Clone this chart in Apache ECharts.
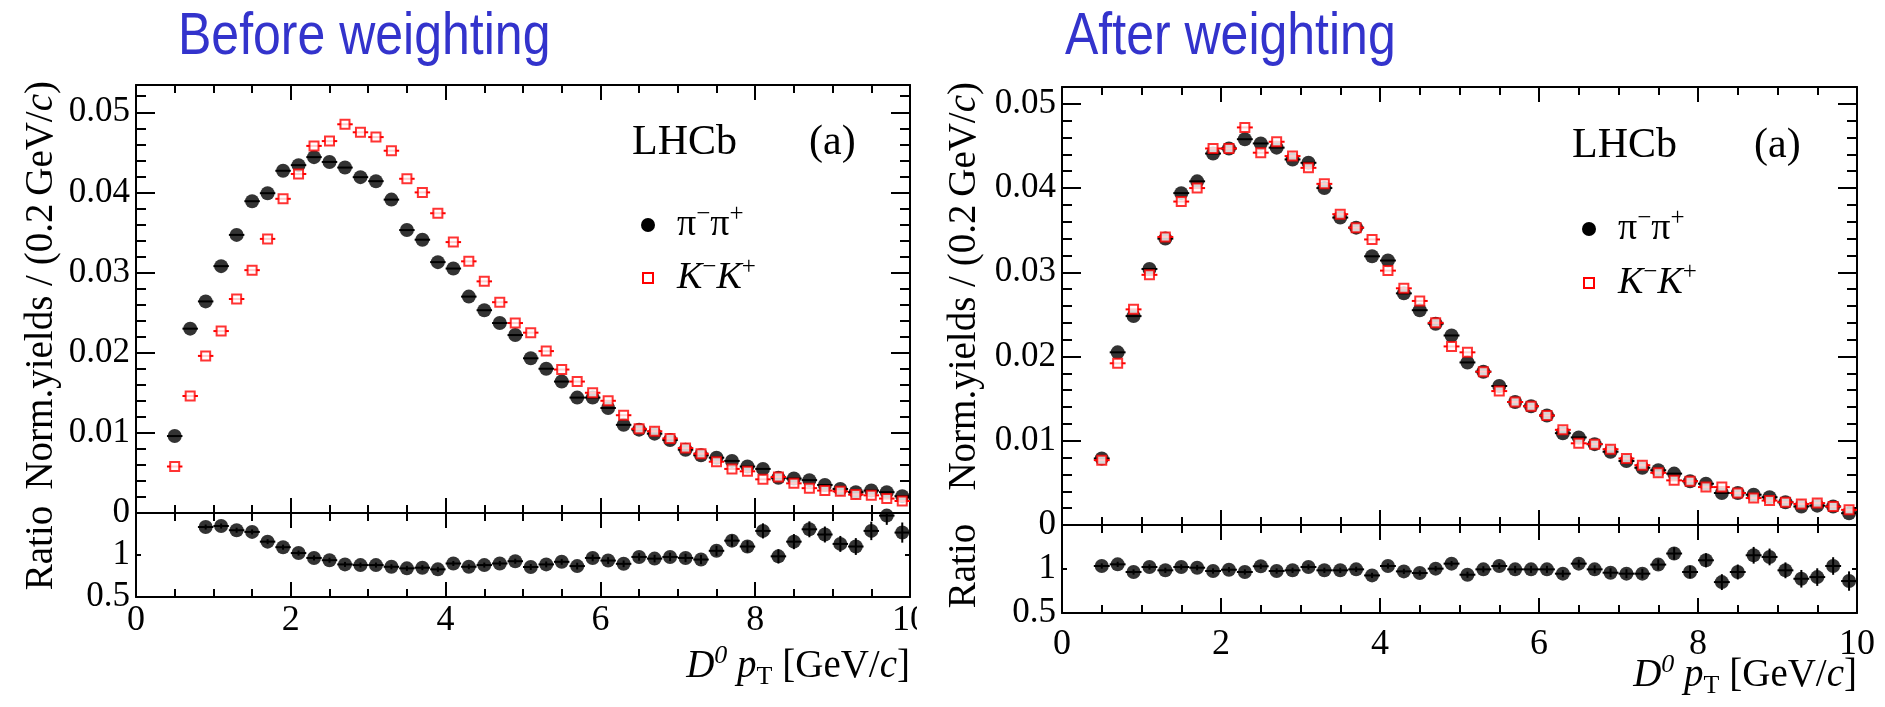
<!DOCTYPE html>
<html>
<head>
<meta charset="utf-8">
<script src="https://cdn.jsdelivr.net/npm/echarts@6/dist/echarts.min.js"></script>
<style>
  html, body { margin: 0; padding: 0; background: #fff; }
  #chart { width: 1885px; height: 707px; }
</style>
</head>
<body>
<div id="chart"></div>
<script>
// D0 pT bin centres (0.2 GeV/c bins from 0.4 to 10 GeV/c)
const ptBins = [0.5, 0.7, 0.9, 1.1, 1.3, 1.5, 1.7, 1.9, 2.1, 2.3, 2.5, 2.7, 2.9, 3.1, 3.3, 3.5,
  3.7, 3.9, 4.1, 4.3, 4.5, 4.7, 4.9, 5.1, 5.3, 5.5, 5.7, 5.9, 6.1, 6.3, 6.5, 6.7, 6.9, 7.1,
  7.3, 7.5, 7.7, 7.9, 8.1, 8.3, 8.5, 8.7, 8.9, 9.1, 9.3, 9.5, 9.7, 9.9];
const binHalfWidth = 0.1;

// Before weighting: normalised yields
const beforePiPi = [0.0096, 0.0230, 0.0264, 0.0308, 0.0347, 0.0389, 0.0399, 0.0427, 0.0434, 0.0444,
  0.0438, 0.0431, 0.0419, 0.0414, 0.0391, 0.0353, 0.0341, 0.0313, 0.0305, 0.0270, 0.0253, 0.0237,
  0.0222, 0.0193, 0.0180, 0.0164, 0.0144, 0.0144, 0.0131, 0.0110, 0.0104, 0.0099, 0.0091, 0.0079,
  0.0072, 0.0069, 0.0065, 0.0058, 0.0055, 0.0044, 0.0043, 0.0041, 0.0035, 0.0030, 0.0026, 0.0028,
  0.0026, 0.0021];
const beforeKK = [0.0058, 0.0146, 0.0196, 0.0227, 0.0267, 0.0303, 0.0342, 0.0392, 0.0423, 0.0458,
  0.0464, 0.0485, 0.0475, 0.0469, 0.0452, 0.0417, 0.0400, 0.0374, 0.0338, 0.0314, 0.0289, 0.0263,
  0.0237, 0.0225, 0.0202, 0.0179, 0.0164, 0.0150, 0.0140, 0.0122, 0.0105, 0.0102, 0.0093, 0.0081,
  0.0074, 0.0064, 0.0055, 0.0052, 0.0042, 0.0045, 0.0037, 0.0031, 0.0028, 0.0027, 0.0023, 0.0022,
  0.0018, 0.0015];
// Before weighting: pi pi / K K ratio (first two bins are off scale)
const beforeRatio = [null, null, 1.333, 1.345, 1.295, 1.275, 1.159, 1.093, 1.023, 0.965, 0.938,
  0.888, 0.880, 0.880, 0.860, 0.841, 0.849, 0.829, 0.899, 0.860, 0.880, 0.899, 0.926, 0.857, 0.888,
  0.919, 0.868, 0.965, 0.934, 0.895, 0.977, 0.957, 0.977, 0.965, 0.946, 1.050, 1.171, 1.101, 1.287,
  0.984, 1.159, 1.306, 1.244, 1.132, 1.101, 1.287, 1.469, 1.267];
const beforeRatioErr = [0, 0, 0.03, 0.03, 0.03, 0.03, 0.03, 0.03, 0.03, 0.03, 0.03, 0.03, 0.03,
  0.03, 0.03, 0.03, 0.03, 0.03, 0.03, 0.03, 0.03, 0.03, 0.03, 0.035, 0.035, 0.035, 0.04, 0.04, 0.04,
  0.04, 0.045, 0.045, 0.05, 0.05, 0.055, 0.06, 0.07, 0.07, 0.09, 0.085, 0.09, 0.095, 0.095, 0.095,
  0.1, 0.11, 0.11, 0.12];

// After weighting: normalised yields
const afterPiPi = [0.0079, 0.0205, 0.0248, 0.0304, 0.0340, 0.0394, 0.0408, 0.0441, 0.0447, 0.0458,
  0.0453, 0.0448, 0.0434, 0.0430, 0.0400, 0.0365, 0.0353, 0.0319, 0.0314, 0.0275, 0.0255, 0.0239,
  0.0225, 0.0193, 0.0182, 0.0165, 0.0146, 0.0141, 0.0130, 0.0109, 0.0104, 0.0096, 0.0087, 0.0076,
  0.0068, 0.0065, 0.0061, 0.0052, 0.0049, 0.0038, 0.0038, 0.0036, 0.0033, 0.0027, 0.0022, 0.0023,
  0.0022, 0.0014];
const afterKK = [0.0077, 0.0192, 0.0256, 0.0297, 0.0342, 0.0384, 0.0400, 0.0447, 0.0447, 0.0472,
  0.0442, 0.0455, 0.0438, 0.0424, 0.0405, 0.0369, 0.0353, 0.0339, 0.0302, 0.0281, 0.0266, 0.0240,
  0.0212, 0.0205, 0.0182, 0.0159, 0.0146, 0.0141, 0.0130, 0.0113, 0.0097, 0.0096, 0.0090, 0.0079,
  0.0071, 0.0062, 0.0053, 0.0052, 0.0045, 0.0045, 0.0038, 0.0032, 0.0029, 0.0027, 0.0025, 0.0026,
  0.0022, 0.0018];
const afterRatio = [1.034, 1.053, 0.966, 1.023, 0.985, 1.023, 1.015, 0.977, 0.992, 0.966, 1.031,
  0.977, 0.985, 1.023, 0.985, 0.985, 0.996, 0.927, 1.034, 0.973, 0.954, 1.004, 1.061, 0.935, 0.996,
  1.034, 0.996, 0.996, 0.996, 0.947, 1.061, 0.996, 0.958, 0.947, 0.947, 1.050, 1.176, 0.966, 1.099,
  0.851, 0.966, 1.156, 1.137, 0.985, 0.889, 0.908, 1.034, 0.863];
const afterRatioErr = [0.03, 0.03, 0.03, 0.03, 0.03, 0.03, 0.03, 0.03, 0.03, 0.03, 0.03, 0.03,
  0.03, 0.03, 0.03, 0.03, 0.03, 0.03, 0.03, 0.03, 0.03, 0.03, 0.03, 0.035, 0.035, 0.035, 0.04, 0.04,
  0.04, 0.04, 0.045, 0.045, 0.05, 0.05, 0.055, 0.06, 0.07, 0.07, 0.08, 0.09, 0.085, 0.095, 0.095,
  0.09, 0.1, 0.1, 0.1, 0.11];

// Axis tick labels
const yieldTickLabels = ['0', '0.01', '0.02', '0.03', '0.04', '0.05'];
const ratioTickLabels = { '0.5': '0.5', '1': '1' };

const SERIF = "'Liberation Serif', 'Times New Roman', Times, serif";
const SANS = "'Liberation Sans', Arial, Helvetica, sans-serif";

// Pixel layout of the two canvases (frame edges)
const panels = [
  { title: 'Before weighting', pipi: beforePiPi, kk: beforeKK, ratio: beforeRatio, ratioErr: beforeRatioErr,
    left: 136, right: 910, top: 85, mid: 513, bottom: 597, yMax: 0.0534, xLabelMargin: 6,
    titleX: 178, titleY: 37, lhcbX: 632, aX: 809, lhcbY: 143,
    legX: 648, legTextX: 677, legY1: 225, legY2: 278,
    yTitleX: 42, normTop: 81, ratioCenter: 548, xTitleY: 667 },
  { title: 'After weighting', pipi: afterPiPi, kk: afterKK, ratio: afterRatio, ratioErr: afterRatioErr,
    left: 1062, right: 1857, top: 87, mid: 525, bottom: 613, yMax: 0.052, xLabelMargin: 14,
    titleX: 1065, titleY: 37, lhcbX: 1572, aX: 1754, lhcbY: 146,
    legX: 1589, legTextX: 1618, legY1: 229, legY2: 283,
    yTitleX: 965, normTop: 82, ratioCenter: 566, xTitleY: 676 }
];

const frameLine = { color: '#000', width: 2 };
const grids = [], xAxes = [], yAxes = [], series = [], graphics = [];

function addGrid(p, top, bottom) {
  grids.push({ left: p.left, top: top, width: p.right - p.left, height: bottom - top,
    containLabel: false, outerBoundsMode: 'none', show: false });
  return grids.length - 1;
}

function addXAxes(g, showLabels, margin) {
  const base = {
    gridIndex: g, type: 'value', min: 0, max: 10, interval: 2,
    axisLine: { show: true, onZero: false, lineStyle: frameLine },
    axisTick: { show: true, inside: true, length: 15, lineStyle: frameLine },
    minorTick: { show: true, splitNumber: 4, length: 8, lineStyle: frameLine },
    splitLine: { show: false }, minorSplitLine: { show: false }
  };
  xAxes.push(Object.assign({}, base, { position: 'bottom',
    axisLabel: { show: showLabels, margin: margin, fontFamily: SERIF, fontSize: 36, color: '#000' } }));
  const idx = xAxes.length - 1;
  xAxes.push(Object.assign({}, base, { position: 'top', axisLabel: { show: false } }));
  return idx;
}

function yieldLabel(v) {
  const k = Math.round(v * 100);
  if (Math.abs(v * 100 - k) > 1e-6) return '';
  return yieldTickLabels[k] || '';
}

function addYieldAxes(g, yMax) {
  const common = { gridIndex: g, type: 'value', min: 0, max: yMax, splitLine: { show: false } };
  const major = Object.assign({}, common, { interval: 0.01,
    axisLine: { show: true, onZero: false, lineStyle: frameLine },
    axisTick: { show: true, inside: true, length: 19, lineStyle: frameLine } });
  yAxes.push(Object.assign({}, major, { position: 'left',
    axisLabel: { show: true, margin: 6, fontFamily: SERIF, fontSize: 35, color: '#000',
      formatter: yieldLabel, showMaxLabel: false } }));
  const idx = yAxes.length - 1;
  yAxes.push(Object.assign({}, major, { position: 'right', axisLabel: { show: false } }));
  const minor = Object.assign({}, common, { interval: 0.002,
    axisLine: { show: false, onZero: false },
    axisTick: { show: true, inside: true, length: 10, lineStyle: frameLine },
    axisLabel: { show: false } });
  yAxes.push(Object.assign({}, minor, { position: 'left' }));
  yAxes.push(Object.assign({}, minor, { position: 'right' }));
  return idx;
}

function addRatioAxes(g) {
  const base = { gridIndex: g, type: 'value', min: 0.5, max: 1.5, interval: 0.5,
    splitLine: { show: false },
    axisLine: { show: true, onZero: false, lineStyle: frameLine },
    axisTick: { show: true, inside: true, length: 5, lineStyle: frameLine } };
  yAxes.push(Object.assign({}, base, { position: 'left',
    axisLabel: { show: true, margin: 6, fontFamily: SERIF, fontSize: 35, color: '#000',
      formatter: v => ratioTickLabels[String(v)] || '' } }));
  const idx = yAxes.length - 1;
  yAxes.push(Object.assign({}, base, { position: 'right', axisLabel: { show: false } }));
  return idx;
}

function points(values, errs) {
  const out = [];
  values.forEach((v, i) => {
    if (v !== null && v !== undefined) out.push([ptBins[i], v, errs ? errs[i] : 0]);
  });
  return out;
}

// Error bars: bin half-width horizontally, statistical error vertically
function errorBars(color) {
  return function (params, api) {
    const x = api.value(0), y = api.value(1), e = api.value(2);
    const a = api.coord([x - binHalfWidth, y]);
    const b = api.coord([x + binHalfWidth, y]);
    const children = [{ type: 'line', shape: { x1: a[0], y1: a[1], x2: b[0], y2: b[1] },
      style: { stroke: color, lineWidth: 2 } }];
    if (e > 0) {
      const t = api.coord([x, y + e]);
      const d = api.coord([x, y - e]);
      children.push({ type: 'line', shape: { x1: t[0], y1: t[1], x2: d[0], y2: d[1] },
        style: { stroke: color, lineWidth: 2 } });
    }
    return { type: 'group', children: children };
  };
}

function addMarkers(xi, yi, data, isKK) {
  series.push({ type: 'custom', xAxisIndex: xi, yAxisIndex: yi, data: data, clip: true, silent: true,
    renderItem: errorBars(isKK ? '#ff0000' : '#000'), z: isKK ? 4 : 2 });
  series.push({ type: 'scatter', xAxisIndex: xi, yAxisIndex: yi, data: data, silent: true,
    symbol: isKK ? 'rect' : 'circle', symbolSize: isKK ? 9 : 14,
    itemStyle: isKK ? { color: '#fff', borderColor: '#ff0000', borderWidth: 2 } : { color: '#000' },
    z: isKK ? 5 : 3 });
}

function serifRich(size) {
  return {
    r: { fontFamily: SERIF, fontSize: size, fill: '#000', lineHeight: size + 8 },
    i: { fontFamily: SERIF, fontSize: size, fontStyle: 'italic', fill: '#000', lineHeight: size + 8 },
    sup: { fontFamily: SERIF, fontSize: Math.round(size * 0.66), fill: '#000', verticalAlign: 'top', lineHeight: Math.round(size * 0.5) },
    supi: { fontFamily: SERIF, fontSize: Math.round(size * 0.66), fontStyle: 'italic', fill: '#000', verticalAlign: 'top', lineHeight: Math.round(size * 0.5) },
    sub: { fontFamily: SERIF, fontSize: Math.round(size * 0.66), fill: '#000', verticalAlign: 'bottom', lineHeight: Math.round(size * 0.45) }
  };
}

function textEl(x, y, text, opts) {
  return Object.assign({ type: 'text', x: x, y: y, z: 100, silent: true,
    style: Object.assign({ x: 0, y: 0, text: text, fill: '#000',
      align: 'left', textAlign: 'left', verticalAlign: 'middle', textVerticalAlign: 'middle' }, opts.style) },
    opts.el || {});
}

panels.forEach(p => {
  const gU = addGrid(p, p.top, p.mid);
  const gR = addGrid(p, p.mid, p.bottom);
  const xU = addXAxes(gU, false, 0);
  const yU = addYieldAxes(gU, p.yMax);
  const xR = addXAxes(gR, true, p.xLabelMargin);
  const yR = addRatioAxes(gR);

  addMarkers(xU, yU, points(p.pipi), false);
  addMarkers(xU, yU, points(p.kk), true);
  addMarkers(xR, yR, points(p.ratio, p.ratioErr), false);

  // Panel heading (narrow, tall sans lettering)
  graphics.push(textEl(p.titleX, p.titleY, p.title,
    { style: { fill: '#3333cc', fontFamily: SANS, fontSize: 50 }, el: { scaleY: 1.2 } }));
  // Experiment tag
  graphics.push(textEl(p.lhcbX, p.lhcbY, 'LHCb', { style: { fontFamily: SERIF, fontSize: 42 } }));
  graphics.push(textEl(p.aX, p.lhcbY, '(a)', { style: { fontFamily: SERIF, fontSize: 42 } }));

  // Legend
  graphics.push({ type: 'circle', z: 100, silent: true, shape: { cx: p.legX, cy: p.legY1, r: 7 },
    style: { fill: '#000' } });
  graphics.push({ type: 'rect', z: 100, silent: true,
    shape: { x: p.legX - 5, y: p.legY2 - 5, width: 10, height: 10 },
    style: { fill: '#fff', stroke: '#ff0000', lineWidth: 2 } });
  graphics.push(textEl(p.legTextX, p.legY1, '{r|π}{sup|−}{r|π}{sup|+}',
    { style: { fontFamily: SERIF, fontSize: 38, rich: serifRich(38) } }));
  graphics.push(textEl(p.legTextX, p.legY2, '{i|K}{sup|−}{i|K}{sup|+}',
    { style: { fontFamily: SERIF, fontSize: 38, rich: serifRich(38) } }));

  // Axis titles
  graphics.push(textEl(p.yTitleX, p.normTop, '{r|Norm.yields / (0.2\u2009GeV/}{i|c}{r|)}',
    { style: { fontFamily: SERIF, fontSize: 39, rich: serifRich(39), align: 'right', textAlign: 'right' },
      el: { rotation: Math.PI / 2 } }));
  graphics.push(textEl(p.yTitleX, p.ratioCenter, '{r|Ratio}',
    { style: { fontFamily: SERIF, fontSize: 39, rich: serifRich(39), align: 'center', textAlign: 'center' },
      el: { rotation: Math.PI / 2 } }));
  graphics.push(textEl(p.right, p.xTitleY, '{i|D}{supi|0}{r| }{i|p}{sub|T}{r| [GeV/}{i|c}{r|]}',
    { style: { fontFamily: SERIF, fontSize: 39, rich: serifRich(39), align: 'right', textAlign: 'right' } }));
});

// Right canvas background clips the last tick label of the left canvas
graphics.push({ type: 'rect', z: 50, silent: true, shape: { x: 917, y: 600, width: 20, height: 50 },
  style: { fill: '#fff' } });

const chart = echarts.init(document.getElementById('chart'), null, { renderer: 'canvas' });
chart.setOption({
  animation: false,
  backgroundColor: '#fff',
  grid: grids,
  xAxis: xAxes,
  yAxis: yAxes,
  series: series,
  graphic: { elements: graphics }
});
</script>
</body>
</html>
